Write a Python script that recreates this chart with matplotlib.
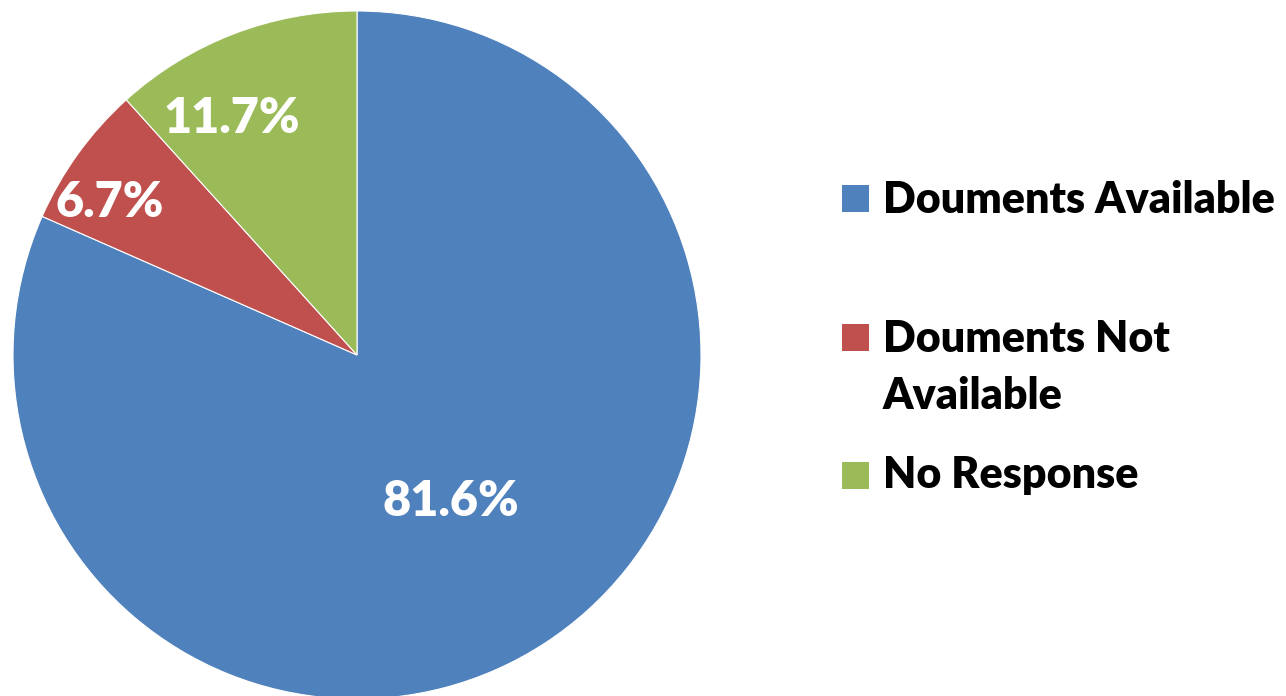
import matplotlib
matplotlib.use("Agg")
import matplotlib.pyplot as plt
from matplotlib.patches import Rectangle

categories = ["Douments Available", "Douments Not\nAvailable", "No Response"]
values = [81.6, 6.7, 11.7]
colors = ["#4F81BD", "#C0504D", "#9BBB59"]

plt.rcParams['font.family'] = ['Lato', 'DejaVu Sans']

W, H = 1286, 696
fig = plt.figure(figsize=(W / 100, H / 100), dpi=100)

cx, cy, r = 357, 355, 344
ax = fig.add_axes([(cx - r) / W, (H - cy - r) / H, 2 * r / W, 2 * r / H])
ax.pie(values, colors=colors, startangle=90, counterclock=False,
       wedgeprops=dict(edgecolor="white", linewidth=0.8), radius=1)
ax.set_xlim(-1, 1)
ax.set_ylim(-1, 1)
ax.set_axis_off()

label_pos = [(0.273, -0.468), (-0.718, 0.401), (-0.363, 0.645)]
for v, (x, y) in zip(values, label_pos):
    ax.text(x, y, f"{v:.1f}%", color="white", fontsize=35, fontweight="heavy",
            ha="center", va="baseline")

# legend
sq = 27
leg_items = [(185, 213), (324, 352), (462, 488)]
for (top, base), lab, col in zip(leg_items, categories, colors):
    fig.patches.append(Rectangle((842 / W, (H - top - sq) / H), sq / W, sq / H,
                                 transform=fig.transFigure, facecolor=col,
                                 edgecolor="none"))
    for i, ln in enumerate(lab.split("\n")):
        fig.text(883 / W, (H - base - i * 57) / H, ln, fontsize=31,
                 fontweight="heavy", color="black", ha="left", va="baseline")

fig.savefig("out.png", dpi=100, facecolor="white")
